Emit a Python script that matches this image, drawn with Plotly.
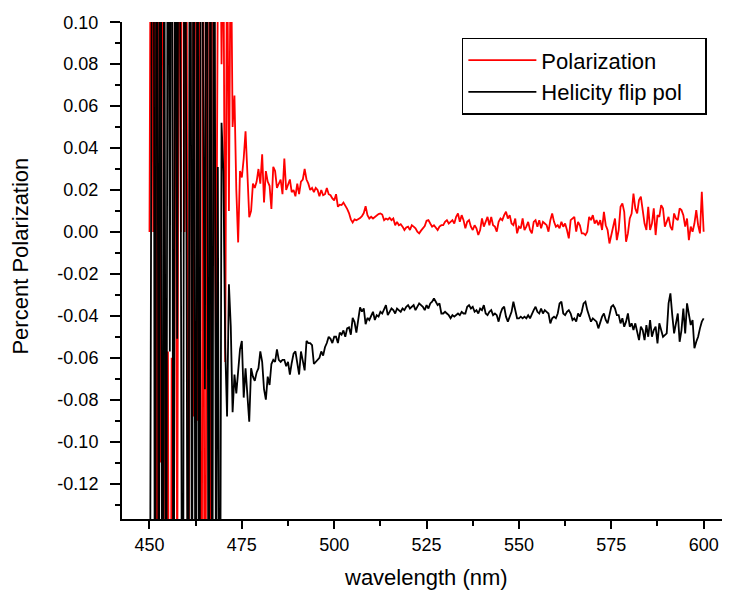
import plotly.graph_objects as go

# ---------------- data ----------------
# wavelength grid (nm), 0.5 nm sampling from 450 to 600
wavelength = [round(450 + 0.5 * i, 1) for i in range(301)]

# Polarization (red), one row = 5 nm (10 samples)
polarization = [
    0.0, 0.25, 0.0, 0.3, -0.2, 0.35, -0.11, 0.2, 0.0, -0.3,
    -0.057, -0.4, -0.06, -0.35, 0.3, -0.2, 0.25, 0.0, 0.3, 0.0,
    0.2, -0.3, 0.15, 0.4, -0.088, 0.3, -0.09, 0.2, -0.4, 0.2,
    -0.35, 0.066, 0.3, -0.3, 0.25, 0.056, -0.061, 0.12, 0.2, 0.08,
    0.15, -0.062, 0.15, 0.010, 0.15, 0.050, 0.065, 0.020, -0.005, 0.029,
    0.026, 0.035, 0.048, 0.028, 0.007, 0.010, 0.023, 0.021, 0.024, 0.030,
    0.023, 0.037, 0.014, 0.029, 0.024, 0.022, 0.011, 0.031, 0.029, 0.021,
    0.023, 0.025, 0.018, 0.035, 0.020, 0.023, 0.025, 0.019, 0.020, 0.017,
    0.023, 0.018, 0.024, 0.025, 0.030, 0.025, 0.023, 0.020, 0.021, 0.019,
    0.021, 0.020, 0.017, 0.020, 0.0175, 0.018, 0.021, 0.018, 0.0175, 0.016,
    0.015, 0.018, 0.012, 0.013, 0.0128, 0.014, 0.0128, 0.011, 0.009, 0.006,
    0.0045, 0.006, 0.0056, 0.006, 0.0066, 0.0075, 0.009, 0.0123, 0.008, 0.0064,
    0.0072, 0.0064, 0.0072, 0.0080, 0.0085, 0.0088, 0.0083, 0.0056, 0.0064, 0.0059,
    0.0067, 0.0056, 0.0064, 0.0032, 0.0048, 0.0032, 0.0037, 0.0025, 0.0009, 0.0021,
    0.0025, 0.0009, 0.0032, 0.0025, 0.0017, 0.0001, -0.0007, 0.0006, 0.0017, 0.0028,
    0.0053, 0.0056, 0.0040, 0.0025, 0.0032, 0.0017, 0.0009, 0.0025, 0.0032, 0.0032,
    0.0048, 0.0056, 0.0040, 0.0048, 0.0056, 0.0040, 0.0072, 0.0088, 0.0048, 0.0080,
    0.0056, 0.0017, 0.0048, 0.0056, 0.0025, 0.0009, 0.0032, 0.0017, -0.0015, 0.0009,
    0.0064, 0.0025, 0.0048, 0.0072, 0.0032, 0.0072, 0.0032, 0.0025, 0.0001, 0.0048,
    0.0064, 0.0056, 0.0080, 0.0096, 0.0064, 0.0080, 0.0040, 0.0032, 0.0064, -0.0007,
    0.0025, 0.0017, 0.0064, 0.0009, 0.0025, 0.0048, 0.0009, -0.0007, 0.0048, 0.0056,
    0.0025, 0.0056, 0.0017, 0.0048, 0.0040, 0.0032, 0.0001, 0.0056, 0.0088, 0.0048,
    0.0025, 0.0032, 0.0017, 0.0048, 0.0025, 0.0040, 0.0009, -0.0031, 0.0056, 0.0064,
    0.0072, 0.0001, 0.0048, 0.0032, -0.0007, -0.0007, -0.0015, 0.0001, 0.0072, 0.0056,
    0.0080, 0.0040, 0.0056, 0.0032, 0.0056, 0.0009, 0.0096, 0.0032, 0.0009, -0.0055,
    -0.0015, 0.0040, 0.0064, -0.0039, 0.0009, 0.0120, 0.0136, 0.0096, -0.0047, -0.0007,
    0.0064, 0.0088, 0.0183, 0.0112, 0.0088, 0.0152, 0.0168, 0.0104, 0.0040, 0.0009,
    0.0120, 0.0009, 0.0040, 0.0112, -0.0015, 0.0080, 0.0072, 0.0128, 0.0112, 0.0025,
    0.0048, 0.0072, 0.0025, 0.0009, 0.0088, 0.0064, 0.0056, 0.0112, 0.0104, 0.0080,
    0.0025, 0.0064, -0.0039, 0.0025, 0.0001, 0.0040, 0.0104, 0.0032, -0.0007, 0.0191,
    0.0001,
]

# Helicity flip pol (black)
helicity_flip = [
    -0.3, 0.0, 0.4, -0.3, 0.35, -0.25, 0.3, -0.35, 0.2, -0.3,
    0.3, -0.057, 0.35, -0.3, 0.25, -0.051, 0.3, 0.0, -0.35, 0.3,
    -0.05, -0.3, 0.35, -0.25, 0.3, -0.35, 0.25, -0.3, 0.3, 0.077,
    -0.075, 0.35, -0.3, 0.2, -0.25, 0.3, -0.2, 0.031, -0.3, 0.052,
    0.029, -0.055, -0.088, -0.025, -0.045, -0.086, -0.068, -0.077, -0.066, -0.056,
    -0.052, -0.079, -0.065, -0.079, -0.0905, -0.065, -0.069, -0.071, -0.067, -0.065,
    -0.057, -0.062, -0.075, -0.080, -0.069, -0.073, -0.063, -0.061, -0.062, -0.056,
    -0.061, -0.062, -0.061, -0.061, -0.064, -0.062, -0.068, -0.0625, -0.058, -0.057,
    -0.063, -0.068, -0.057, -0.062, -0.066, -0.052, -0.053, -0.053, -0.054, -0.063,
    -0.062, -0.061, -0.060, -0.057, -0.059, -0.055, -0.053, -0.050, -0.051, -0.053,
    -0.050, -0.050, -0.053, -0.048, -0.049, -0.047, -0.050, -0.046, -0.0455, -0.049,
    -0.041, -0.043, -0.048, -0.042, -0.036, -0.038, -0.0365, -0.044, -0.041, -0.042,
    -0.0404, -0.0381, -0.0420, -0.0397, -0.0404, -0.0381, -0.0389, -0.0365, -0.0349, -0.0397,
    -0.0381, -0.0365, -0.0373, -0.0389, -0.0365, -0.0373, -0.0381, -0.0365, -0.0373, -0.0357,
    -0.0349, -0.0365, -0.0357, -0.0349, -0.0373, -0.0357, -0.0341, -0.0349, -0.0357, -0.0373,
    -0.0349, -0.0365, -0.0341, -0.0333, -0.0317, -0.0333, -0.0349, -0.0341, -0.0389, -0.0389,
    -0.0381, -0.0389, -0.0397, -0.0412, -0.0397, -0.0404, -0.0397, -0.0389, -0.0397, -0.0381,
    -0.0389, -0.0389, -0.0357, -0.0349, -0.0365, -0.0357, -0.0381, -0.0373, -0.0389, -0.0365,
    -0.0373, -0.0349, -0.0389, -0.0397, -0.0381, -0.0373, -0.0397, -0.0389, -0.0397, -0.0428,
    -0.0389, -0.0365, -0.0357, -0.0404, -0.0428, -0.0404, -0.0381, -0.0333, -0.0373, -0.0412,
    -0.0412, -0.0404, -0.0412, -0.0404, -0.0412, -0.0397, -0.0412, -0.0389, -0.0373, -0.0357,
    -0.0381, -0.0389, -0.0365, -0.0389, -0.0373, -0.0381, -0.0389, -0.0436, -0.0412, -0.0404,
    -0.0412, -0.0389, -0.0341, -0.0333, -0.0389, -0.0397, -0.0381, -0.0373, -0.0389, -0.0420,
    -0.0412, -0.0428, -0.0389, -0.0404, -0.0381, -0.0341, -0.0333, -0.0373, -0.0397, -0.0428,
    -0.0412, -0.0420, -0.0428, -0.0460, -0.0428, -0.0404, -0.0389, -0.0420, -0.0436, -0.0389,
    -0.0357, -0.0349, -0.0365, -0.0397, -0.0397, -0.0436, -0.0412, -0.0452, -0.0428, -0.0389,
    -0.0452, -0.0436, -0.0468, -0.0436, -0.0476, -0.0516, -0.0452, -0.0468, -0.0516, -0.0444,
    -0.0500, -0.0420, -0.0500, -0.0468, -0.0452, -0.0532, -0.0436, -0.0476, -0.0500, -0.0492,
    -0.0484, -0.0341, -0.0293, -0.0397, -0.0484, -0.0436, -0.0389, -0.0524, -0.0468, -0.0365,
    -0.0484, -0.0341, -0.0389, -0.0444, -0.0420, -0.0555, -0.0524, -0.0500, -0.0460, -0.0428,
    -0.0412,
]

x_tick_vals = [450, 475, 500, 525, 550, 575, 600]
x_tick_text = ["450", "475", "500", "525", "550", "575", "600"]
y_tick_vals = [0.10, 0.08, 0.06, 0.04, 0.02, 0.00, -0.02, -0.04, -0.06, -0.08, -0.10, -0.12]
y_tick_text = ["0.10", "0.08", "0.06", "0.04", "0.02", "0.00", "-0.02", "-0.04",
               "-0.06", "-0.08", "-0.10", "-0.12"]

# ---------------- figure ----------------
FONT = "Arial, 'Liberation Sans', sans-serif"
NB = "\u00a0"

fig = go.Figure()
fig.add_trace(go.Scatter(
    x=wavelength, y=polarization, mode="lines", name="Polarization",
    line=dict(color="#FF0000", width=1.8), legendgroup="pol",
))
fig.add_trace(go.Scatter(
    x=wavelength, y=helicity_flip, mode="lines", name="Helicity flip pol" + NB * 3,
    line=dict(color="#000000", width=1.8), legendgroup="hel",
))

# page body has an 8 px margin: figure is 722x585 so the plot lands at the reference position
fig.update_layout(
    width=722, height=585,
    margin=dict(l=114, r=0, t=14, b=74),
    paper_bgcolor="white", plot_bgcolor="white",
    font=dict(family=FONT, color="black"),
    showlegend=True,
    legend=dict(
        x=0.559, y=0.968, xanchor="left", yanchor="top",
        bordercolor="black", borderwidth=1.5, bgcolor="white",
        font=dict(family=FONT, size=22, color="black"),
        traceorder="grouped", tracegroupgap=0, itemwidth=68,
    ),
    xaxis=dict(
        range=[442.56, 607.13], tickmode="array",
        tickvals=x_tick_vals, ticktext=x_tick_text,
        ticks="outside", ticklen=8, tickwidth=1.5, tickcolor="black",
        showline=True, linewidth=2, linecolor="black",
        showgrid=False, zeroline=False,
        tickfont=dict(family=FONT, size=18, color="black"),
        minor=dict(ticks="outside", ticklen=5, tickwidth=1.5, tickcolor="black",
                   tickmode="linear", tick0=450, dtick=12.5, showgrid=False),
    ),
    yaxis=dict(
        range=[-0.1369, 0.1001], tickmode="array",
        tickvals=y_tick_vals, ticktext=y_tick_text,
        ticks="outside", ticklen=10, tickwidth=1.5, tickcolor="black",
        ticklabelstandoff=8,
        showline=True, linewidth=2, linecolor="black",
        showgrid=False, zeroline=False,
        tickfont=dict(family=FONT, size=18, color="black"),
        minor=dict(ticks="outside", ticklen=5, tickwidth=1.5, tickcolor="black",
                   tickmode="linear", tick0=0, dtick=0.01, showgrid=False),
    ),
    annotations=[
        dict(text="wavelength (nm)", xref="paper", yref="paper",
             x=0.5, y=-0.1187, xanchor="center", yanchor="middle",
             showarrow=False, font=dict(family=FONT, size=22, color="black")),
        dict(text="Percent Polarization", xref="paper", yref="paper",
             x=-0.167, y=0.529, xanchor="center", yanchor="middle",
             textangle=-90, showarrow=False,
             font=dict(family=FONT, size=22, color="black")),
    ],
)

fig.write_html("out.html")
